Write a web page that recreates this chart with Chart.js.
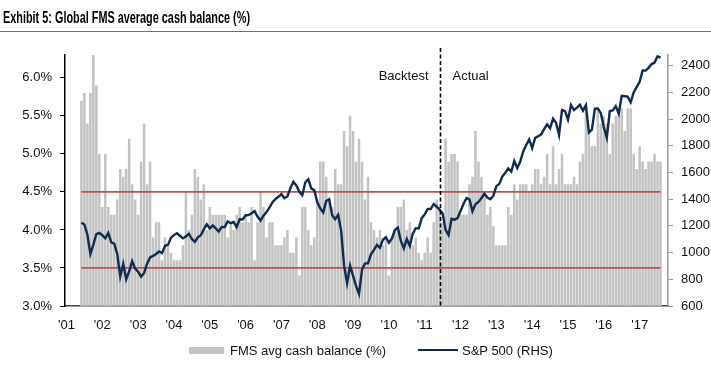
<!DOCTYPE html>
<html><head><meta charset="utf-8">
<script src="https://cdn.jsdelivr.net/npm/chart.js@4.4.0/dist/chart.umd.min.js"></script>
<style>
html,body{margin:0;padding:0;background:#fff;}
#wrap{position:relative;width:711px;height:380px;overflow:hidden;font-family:"Liberation Sans",Arial,sans-serif;}
canvas{position:absolute;left:0;top:0;}
#title{position:absolute;left:3px;top:9px;font-weight:bold;font-size:16px;font-family:"Liberation Sans",Arial,sans-serif;color:#000;white-space:nowrap;transform-origin:0 0;display:inline-block;}
#rule{position:absolute;left:0;top:31px;width:711px;height:1px;background:#5f7389;}
.lg{position:absolute;font-size:13px;color:#111;white-space:nowrap;line-height:15px;}
</style></head>
<body><div id="wrap">
<canvas id="c" width="711" height="380"></canvas>
<div id="title">Exhibit 5: Global FMS average cash balance (%)</div>
<div id="rule"></div>
<div class="lg" style="left:189px;top:347px;width:35px;height:7px;background:#c3c3c3"></div>
<div class="lg" style="left:230px;top:343px">FMS avg cash balance (%)</div>
<div class="lg" style="left:418px;top:349px;width:40px;height:2px;background:#0f2b50"></div>
<div class="lg" style="left:462px;top:343px">S&amp;P 500 (RHS)</div>
</div>
<script>
// narrow the title to the reference's condensed width
(function () {
  const t = document.getElementById('title');
  const w = t.getBoundingClientRect().width;
  if (w > 0) t.style.transform = 'scaleX(' + (247 / w) + ')';
})();

// month categories Jan 2001 .. Oct 2017
const months = [];
for (let y = 2001; y <= 2017; y++) {
  for (let m = 1; m <= 12; m++) {
    if (y === 2017 && m > 10) break;
    months.push(y + '-' + String(m).padStart(2, '0'));
  }
}
const dataStart = '2001-06';   // first month of both series
const splitMonth = '2011-06';  // backtest | actual
const upperBand = 4.5;
const lowerBand = 3.5;

// FMS average cash balance (%), monthly from Jun 2001
const cashBalance = [
  5.7,5.8,5.4,5.8,6.3,5.9,5.0,                       // 2001 Jun-Dec
  4.3,5.0,4.3,4.2,4.2,4.4,4.8,4.7,4.8,5.2,4.6,4.4,   // 2002
  4.2,4.9,5.4,4.6,4.9,3.9,4.1,4.1,3.6,3.9,3.8,3.7,   // 2003
  3.6,3.6,3.6,3.8,4.5,4.0,4.2,4.8,4.7,4.4,4.6,4.0,   // 2004
  4.3,4.2,4.2,4.2,4.2,4.2,3.9,4.1,4.0,4.2,4.3,4.1,   // 2005
  4.2,4.1,4.3,3.6,4.1,4.5,4.3,3.9,4.1,4.1,3.8,3.8,   // 2006
  3.8,3.9,4.0,3.7,3.7,3.9,3.4,4.3,4.3,4.0,3.8,3.9,   // 2007
  4.4,4.9,4.9,4.7,4.4,4.3,4.8,4.6,4.6,5.3,5.1,5.5,   // 2008
  5.3,4.9,5.2,4.9,4.4,4.7,4.1,4.0,3.9,4.0,3.8,3.9,   // 2009
  3.4,3.9,4.0,4.3,4.3,4.4,4.0,4.1,3.8,3.9,3.7,3.6,   // 2010
  3.7,3.9,3.7,4.1,4.4,4.3,4.1,5.2,4.9,5.0,5.0,4.9,   // 2011
  4.2,4.2,4.2,4.6,4.7,5.3,4.9,4.7,4.5,4.2,4.3,4.05,  // 2012
  3.8,3.8,3.8,3.8,4.3,4.2,4.6,4.4,4.6,4.6,4.6,4.5,   // 2013
  4.6,4.8,4.8,4.6,4.7,5.0,4.6,5.1,4.6,4.8,5.0,4.6,   // 2014
  4.6,4.6,4.7,4.6,4.9,5.0,5.6,5.3,5.1,5.1,5.6,5.4,   // 2015
  5.5,5.4,5.0,5.4,5.5,5.5,5.6,5.3,5.6,5.6,5.0,4.8,   // 2016
  5.1,4.9,4.8,4.9,4.9,5.0,4.9,4.9                    // 2017 Jan-Aug
];

// S&P 500 level (RHS), monthly from Jun 2001
const sp500 = [
  1224,1211,1134,990,1060,1139,1148,
  1130,1107,1147,1077,1067,990,820,916,800,860,936,880,
  856,820,848,917,964,975,990,1008,996,1051,1058,1112,
  1131,1145,1126,1107,1121,1141,1102,1080,1115,1130,1174,1212,
  1181,1204,1181,1157,1192,1191,1234,1220,1229,1190,1249,1248,
  1280,1281,1295,1311,1270,1240,1277,1304,1336,1378,1401,1418,
  1438,1407,1421,1482,1531,1503,1455,1430,1527,1549,1481,1468,
  1379,1331,1300,1386,1400,1280,1250,1283,1165,900,770,903,
  826,750,690,873,919,919,987,1021,1057,1036,1096,1115,
  1074,1104,1169,1187,1089,1031,1102,1049,1141,1183,1181,1258,
  1286,1327,1326,1364,1345,1321,1292,1170,1131,1253,1247,1258,
  1312,1366,1408,1398,1310,1362,1379,1407,1441,1412,1400,1426,
  1498,1515,1569,1598,1631,1606,1686,1633,1682,1757,1806,1848,
  1783,1859,1872,1884,1924,1960,1931,2003,1972,1880,2068,2059,
  1995,2105,2068,2086,2107,2063,2104,1900,1920,2079,2080,2044,
  1940,1860,2060,2065,2097,2040,2174,2171,2168,2126,2199,2239,
  2279,2364,2363,2384,2412,2423,2470,2460
];

const yearTicks = ["'01","'02","'03","'04","'05","'06","'07","'08","'09","'10","'11","'12","'13","'14","'15","'16","'17"];

const startIdx = months.indexOf(dataStart);
function align(arr) {
  return months.map((m, i) => (i >= startIdx && i - startIdx < arr.length) ? arr[i - startIdx] : null);
}
const lastMonth = months[startIdx + cashBalance.length - 1];

const FONT = '"Liberation Sans", Arial, sans-serif';

const splitPlugin = {
  id: 'split',
  afterDatasetsDraw(chart) {
    const { ctx, chartArea, scales } = chart;
    const px = Math.round(scales.x.getPixelForValue(months.indexOf(splitMonth))) + 0.5;
    ctx.save();
    ctx.strokeStyle = '#000';
    ctx.lineWidth = 1.6;
    ctx.setLineDash([4, 2.5]);
    ctx.beginPath();
    ctx.moveTo(px, 48);
    ctx.lineTo(px, chartArea.bottom);
    ctx.stroke();
    ctx.setLineDash([]);
    ctx.fillStyle = '#111';
    ctx.font = '13px ' + FONT;
    ctx.textBaseline = 'middle';
    ctx.textAlign = 'right';
    ctx.fillText('Backtest', px - 12, 76);
    ctx.textAlign = 'left';
    ctx.fillText('Actual', px + 12, 76);
    ctx.restore();
  }
};

new Chart(document.getElementById('c'), {
  type: 'bar',
  data: {
    labels: months,
    datasets: [
      { type: 'line', label: 'S&P 500 (RHS)', data: align(sp500), yAxisID: 'y2',
        borderColor: '#0f2b50', borderWidth: 2.4, pointRadius: 0, tension: 0, order: 0 },
      { type: 'line', label: 'upper', data: [{x: dataStart, y: upperBand}, {x: lastMonth, y: upperBand}], yAxisID: 'y',
        borderColor: '#c0504d', borderWidth: 1.8, pointRadius: 0, order: 1 },
      { type: 'line', label: 'lower', data: [{x: dataStart, y: lowerBand}, {x: lastMonth, y: lowerBand}], yAxisID: 'y',
        borderColor: '#c0504d', borderWidth: 1.8, pointRadius: 0, order: 1 },
      { type: 'bar', label: 'FMS avg cash balance (%)', data: align(cashBalance), yAxisID: 'y',
        backgroundColor: '#c3c3c3', barPercentage: 0.85, categoryPercentage: 1.0, order: 2 }
    ]
  },
  options: {
    responsive: false, animation: false, events: [],
    layout: { padding: { top: 55, left: 0, right: 0, bottom: 0 } },
    plugins: { legend: { display: false }, tooltip: { enabled: false }, title: { display: false } },
    scales: {
      x: {
        type: 'category', offset: true,
        grid: { display: false, drawTicks: false },
        border: { display: true, color: '#404040', width: 1.5 },
        ticks: {
          autoSkip: false, maxRotation: 0, minRotation: 0, padding: 12, color: '#111',
          font: { size: 13, family: FONT },
          callback: (v, i) => months[i].endsWith('-01') ? yearTicks[parseInt(months[i].slice(0, 4)) - 2001] : null
        },
        afterFit: s => { s.height = 74; }
      },
      y: {
        position: 'left', min: 3, max: 6.3,
        grid: { drawOnChartArea: false, drawTicks: true, tickLength: 5, color: '#000' },
        border: { display: true, color: '#000', width: 1.5 },
        ticks: { stepSize: 0.5, includeBounds: false, padding: 8, color: '#111', font: { size: 13, family: FONT },
          callback: v => v.toFixed(1) + '%' },
        afterFit: s => { s.width = 65; }
      },
      y2: {
        position: 'right', min: 600, max: 2480,
        grid: { drawOnChartArea: false, drawTicks: true, tickLength: 5, color: '#9a9a9a' },
        border: { display: true, color: '#9a9a9a', width: 1.5 },
        ticks: { stepSize: 200, includeBounds: false, padding: 8, color: '#111', font: { size: 13, family: FONT },
          callback: v => String(v) },
        afterFit: s => { s.width = 43; }
      }
    }
  },
  plugins: [splitPlugin]
});
</script>
</body></html>
